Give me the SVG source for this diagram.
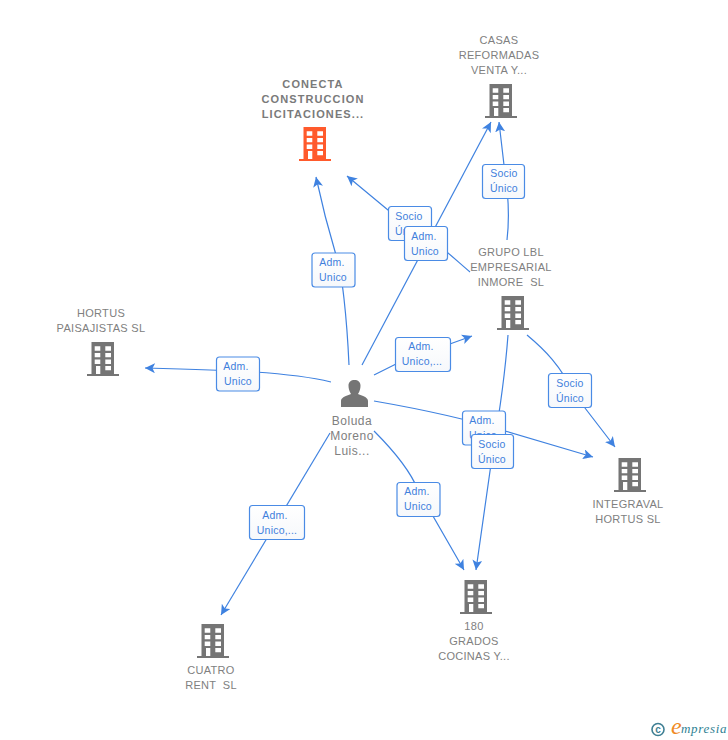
<svg xmlns="http://www.w3.org/2000/svg" width="728" height="740" viewBox="0 0 728 740">
<style>
.n{font:11px "Liberation Sans",Arial,sans-serif;fill:#808080;text-anchor:middle;letter-spacing:.3px;white-space:pre}
.b{font-weight:bold;fill:#7a7a7a;letter-spacing:1.1px}
.e{fill:none;stroke:#3f82e0;stroke-width:1.2}
.l rect{fill:url(#g);stroke:#4a8be5;stroke-width:1.2}
.l text{font:10.5px "Liberation Sans",Arial,sans-serif;fill:#3f7fdc;text-anchor:middle;letter-spacing:.2px}
</style>
<defs>
<linearGradient id="g" x1="0" y1="0" x2="0" y2="1"><stop offset="0" stop-color="#fff"/><stop offset="1" stop-color="#f6f8fb"/></linearGradient>
<marker id="a" markerUnits="userSpaceOnUse" markerWidth="12" markerHeight="12" refX="10" refY="5" orient="auto"><path d="M0 0L10 5L0 10L2.5 5Z" fill="#3f82e0"/></marker>
<symbol id="bld" viewBox="0 0 32 34" overflow="visible">
<path fill-rule="evenodd" d="M4.500 0H27V32H32V34H0V32H4.500ZM7.700 4.300V8.700H13.300V4.300ZM18.300 4.300V8.700H24V4.300ZM7.700 11V15.300H13.300V11ZM18.300 11V15.300H24V11ZM7.700 17.600V22H13.300V17.600ZM18.300 17.600V22H24V17.600ZM9 24V32H13.300V24ZM18.300 24V28.300H24V24Z"/>
</symbol>
</defs>
<g id="connectors">
<path class="e" marker-end="url(#a)" d="M349 365C347 320 342 270 336 255C330 235 322 205 316 177"/>
<path class="e" marker-end="url(#a)" d="M470 272C450 255 430 235 400 220L347 176"/>
<path class="e" marker-end="url(#a)" d="M362 365L491 122"/>
<path class="e" marker-end="url(#a)" d="M507 240C510 215 508 190 504 165L499 122"/>
<path class="e" marker-end="url(#a)" d="M374 375L400 362L472 336"/>
<path class="e" marker-end="url(#a)" d="M331 382C290 372 230 370 145 368"/>
<path class="e" marker-end="url(#a)" d="M374 401C420 409 470 420 505 431L593 457"/>
<path class="e" marker-end="url(#a)" d="M527 335C545 350 560 365 575 395L615 447"/>
<path class="e" marker-end="url(#a)" d="M508 335C505 375 500 410 493 450L476 570"/>
<path class="e" marker-end="url(#a)" d="M374 431C395 452 410 470 418 490L464 570"/>
<path class="e" marker-end="url(#a)" d="M330 433L221 615"/>
</g>
<g id="node-conecta"><use href="#bld" x="299" y="127" width="32" height="34" fill="#ff5a2c"/>
<text class="n b"><tspan x="313" y="88">CONECTA</tspan><tspan x="313" y="103">CONSTRUCCION</tspan><tspan x="313" y="118">LICITACIONES...</tspan></text></g>
<g id="node-casas"><use href="#bld" x="485" y="84" width="32" height="34" fill="#757575"/>
<text class="n"><tspan x="499" y="44">CASAS</tspan><tspan x="499" y="59">REFORMADAS</tspan><tspan x="499" y="74">VENTA Y...</tspan></text></g>
<g id="node-grupo"><use href="#bld" x="497" y="296" width="32" height="34" fill="#757575"/>
<text class="n"><tspan x="511" y="256">GRUPO LBL</tspan><tspan x="511" y="271">EMPRESARIAL</tspan><tspan x="511" y="286">INMORE  SL</tspan></text></g>
<g id="node-hortus"><use href="#bld" x="87" y="342" width="32" height="34" fill="#757575"/>
<text class="n"><tspan x="101" y="317">HORTUS</tspan><tspan x="101" y="332">PAISAJISTAS SL</tspan></text></g>
<g id="node-integraval"><use href="#bld" x="614" y="458" width="32" height="34" fill="#757575"/>
<text class="n"><tspan x="628" y="508">INTEGRAVAL</tspan><tspan x="628" y="523">HORTUS SL</tspan></text></g>
<g id="node-180"><use href="#bld" x="460" y="580" width="32" height="34" fill="#757575"/>
<text class="n"><tspan x="474" y="630">180</tspan><tspan x="474" y="645">GRADOS</tspan><tspan x="474" y="660">COCINAS Y...</tspan></text></g>
<g id="node-cuatro"><use href="#bld" x="197" y="624" width="32" height="34" fill="#757575"/>
<text class="n"><tspan x="211" y="674">CUATRO</tspan><tspan x="211" y="689">RENT  SL</tspan></text></g>
<g id="node-boluda"><path fill="#757575" d="M341 407V401C341 398 344 396.500 351 394C349 391 348.500 388 348.500 385.500C348.500 382 351 380 354.500 380C358 380 360.500 382 360.500 385.500C360.500 388 360 391 358 394C365 396.500 368 398 368 401V407Z"/>
<text class="n" style="font-size:12px;letter-spacing:.5px"><tspan x="352" y="425">Boluda</tspan><tspan x="352" y="440">Moreno</tspan><tspan x="352" y="455">Luis...</tspan></text></g>
<g id="edge-labels">
<g class="l"><rect x="312" y="253" width="43" height="34" rx="3"/><text><tspan x="332" y="266">Adm.</tspan><tspan x="333" y="281">Unico</tspan></text></g>
<g class="l"><rect x="388.500" y="206.500" width="43" height="34" rx="3"/><text><tspan x="409" y="220">Socio</tspan><tspan x="409" y="235">Único</tspan></text></g>
<g class="l"><rect x="404.500" y="226.500" width="43" height="34" rx="3"/><text><tspan x="424" y="240">Adm.</tspan><tspan x="425" y="255">Unico</tspan></text></g>
<g class="l"><rect x="482.500" y="164.500" width="42" height="34" rx="3"/><text><tspan x="504" y="177">Socio</tspan><tspan x="504" y="192">Único</tspan></text></g>
<g class="l"><rect x="395.500" y="337.500" width="55" height="34" rx="3"/><text><tspan x="421" y="350">Adm.</tspan><tspan x="422" y="365">Unico,...</tspan></text></g>
<g class="l"><rect x="216.500" y="357" width="43" height="34" rx="3"/><text><tspan x="236" y="370">Adm.</tspan><tspan x="238" y="385">Unico</tspan></text></g>
<g class="l"><rect x="548.500" y="373.500" width="43" height="34" rx="3"/><text><tspan x="570" y="387">Socio</tspan><tspan x="570" y="402">Único</tspan></text></g>
<g class="l"><rect x="462.500" y="411" width="43" height="34" rx="3"/><text><tspan x="482" y="424">Adm.</tspan><tspan x="483" y="439">Unico</tspan></text></g>
<g class="l"><rect x="471.500" y="434.500" width="42" height="34" rx="3"/><text><tspan x="492" y="448">Socio</tspan><tspan x="492" y="463">Único</tspan></text></g>
<g class="l"><rect x="397" y="482.500" width="43" height="34" rx="3"/><text><tspan x="417" y="495">Adm.</tspan><tspan x="418" y="510">Unico</tspan></text></g>
<g class="l"><rect x="249.500" y="505.500" width="55" height="34" rx="3"/><text><tspan x="275" y="519">Adm.</tspan><tspan x="277" y="534">Unico,...</tspan></text></g>
</g>
<g id="logo">
<circle cx="658" cy="729.500" r="6" fill="none" stroke="#3f7f93" stroke-width="1.600"/>
<text x="658" y="733" style="font:bold 10px 'Liberation Sans',sans-serif;fill:#3f7f93;text-anchor:middle">c</text>
<text x="671" y="734" style="font:italic 24px 'Liberation Serif',serif;fill:#f08a24">e</text>
<text x="681" y="733" style="font:italic 13px 'Liberation Serif',serif;fill:#2f7f93;letter-spacing:.7px">mpresia</text>
</g>
</svg>
